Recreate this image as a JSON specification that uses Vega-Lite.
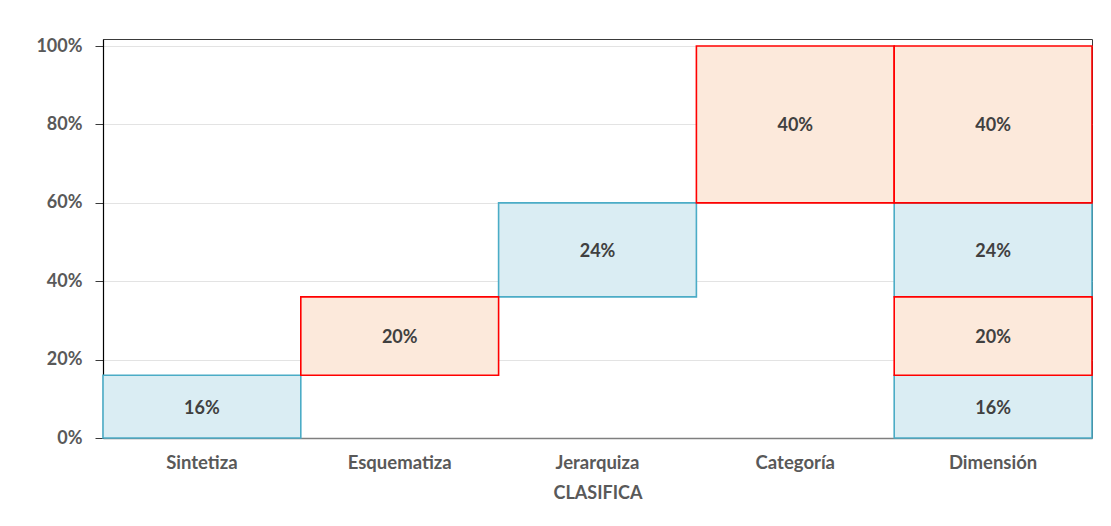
{
  "$schema": "https://vega.github.io/schema/vega-lite/v6.json",
  "autosize": "none",
  "width": 989,
  "height": 399,
  "padding": {"left": 103, "top": 39, "right": 19, "bottom": 88},
  "background": "white",
  "config": {
    "font": "Lato",
    "view": {"stroke": "#3a3a3a", "strokeWidth": 1}
  },
  "data": {
    "values": [
      {"cat": "Sintetiza", "start": 0, "end": 0.16, "label": "16%", "kind": "a"},
      {"cat": "Jerarquiza", "start": 0.36, "end": 0.60, "label": "24%", "kind": "a"},
      {"cat": "Dimensión", "start": 0, "end": 0.16, "label": "16%", "kind": "a"},
      {"cat": "Dimensión", "start": 0.36, "end": 0.60, "label": "24%", "kind": "a"},
      {"cat": "Esquematiza", "start": 0.16, "end": 0.36, "label": "20%", "kind": "b"},
      {"cat": "Categoría", "start": 0.60, "end": 1.00, "label": "40%", "kind": "b"},
      {"cat": "Dimensión", "start": 0.16, "end": 0.36, "label": "20%", "kind": "b"},
      {"cat": "Dimensión", "start": 0.60, "end": 1.00, "label": "40%", "kind": "b"}
    ]
  },
  "transform": [{"calculate": "(datum.start + datum.end) / 2", "as": "mid"}],
  "encoding": {
    "x": {
      "field": "cat",
      "type": "nominal",
      "sort": ["Sintetiza", "Esquematiza", "Jerarquiza", "Categoría", "Dimensión"],
      "scale": {"paddingInner": 0, "paddingOuter": 0},
      "axis": {
        "title": "CLASIFICA",
        "titleFont": "Lato",
        "titleFontSize": 18,
        "titleFontWeight": "bold",
        "titleColor": "#595959",
        "titlePadding": 13,
        "labelAngle": 0,
        "labelFont": "Lato",
        "labelFontSize": 18.5,
        "labelFontWeight": "bold",
        "labelColor": "#595959",
        "labelPadding": 15,
        "ticks": false,
        "domainColor": "#7f7f7f",
        "domainWidth": 1.5
      }
    }
  },
  "layer": [
    {
      "mark": {"type": "bar", "strokeWidth": 1.6},
      "encoding": {
        "y": {
          "field": "start",
          "type": "quantitative",
          "scale": {"domain": [0, 1.018], "nice": false, "zero": true},
          "axis": {
            "title": null,
            "values": [0, 0.2, 0.4, 0.6, 0.8, 1.0],
            "format": ".0%",
            "labelFont": "Lato",
            "labelFontSize": 18,
            "labelFontWeight": "bold",
            "labelColor": "#595959",
            "labelPadding": 13,
            "tickSize": 8,
            "tickColor": "#3a3a3a",
            "domainColor": "#000000",
            "domainWidth": 1.2,
            "gridColor": "#e3e3e3",
            "gridWidth": 1
          }
        },
        "y2": {"field": "end"},
        "fill": {
          "field": "kind",
          "type": "nominal",
          "scale": {"domain": ["a", "b"], "range": ["#DAEDF3", "#FCE9DB"]},
          "legend": null
        },
        "stroke": {
          "field": "kind",
          "type": "nominal",
          "scale": {"domain": ["a", "b"], "range": ["#4BACC6", "#FF0000"]},
          "legend": null
        }
      }
    },
    {
      "mark": {"type": "text", "font": "Lato", "fontSize": 18, "fontWeight": "bold", "color": "#404040", "dy": 2},
      "encoding": {
        "y": {"field": "mid", "type": "quantitative"},
        "text": {"field": "label"}
      }
    }
  ]
}
